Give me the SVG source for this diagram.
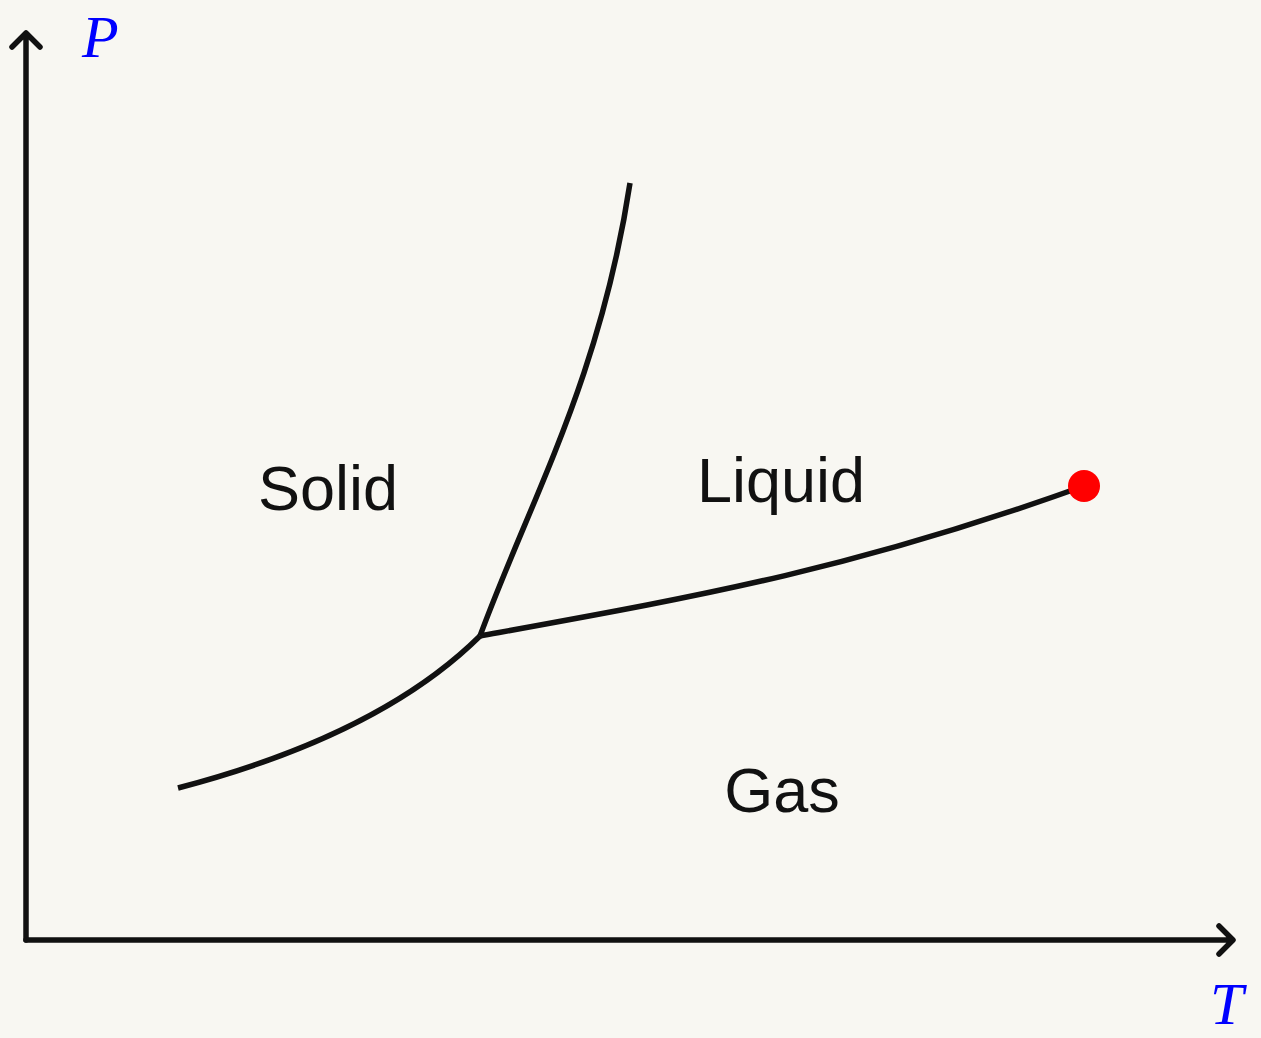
<svg xmlns="http://www.w3.org/2000/svg" width="1261" height="1038" viewBox="0 0 1261 1038">
<style>
.ax{fill:none;stroke:#111;stroke-width:5.5;stroke-linecap:round;stroke-linejoin:round}
.cv{fill:none;stroke:#111;stroke-width:5.5;stroke-linejoin:round}
.lab{font-family:"Liberation Sans",Arial,sans-serif;font-size:63px;fill:#111;text-anchor:middle}
.var{font-family:"Liberation Serif","Times New Roman",serif;font-style:italic;font-size:60px;fill:#0000ff}
</style>
<rect width="1261" height="1038" fill="#f8f7f2"/>
<g id="axes">
<path class="ax" d="M26 940 V34 M12 47 L26 33 L40 47"/>
<path class="ax" d="M26 940 H1232 M1219 926 L1233 940 L1219 954"/>
</g>
<g id="connectors">
<path class="cv" d="M178 788 Q380 735 480 636"/>
<path class="cv" d="M480 636 C530 500 600 380 630 183"/>
<path class="cv" d="M480 636 C700 596 850 570 1084 486"/>
</g>
<g id="critical"><circle cx="1084" cy="486" r="16" fill="#ff0000"/></g>
<g id="solid"><text class="lab" x="328" y="510">Solid</text></g>
<g id="liquid"><text class="lab" x="781" y="502">Liquid</text></g>
<g id="gas"><text class="lab" x="782" y="812">Gas</text></g>
<g id="p"><text class="var" x="82" y="57">P</text></g>
<g id="t"><text class="var" x="1210" y="1024">T</text></g>
</svg>
